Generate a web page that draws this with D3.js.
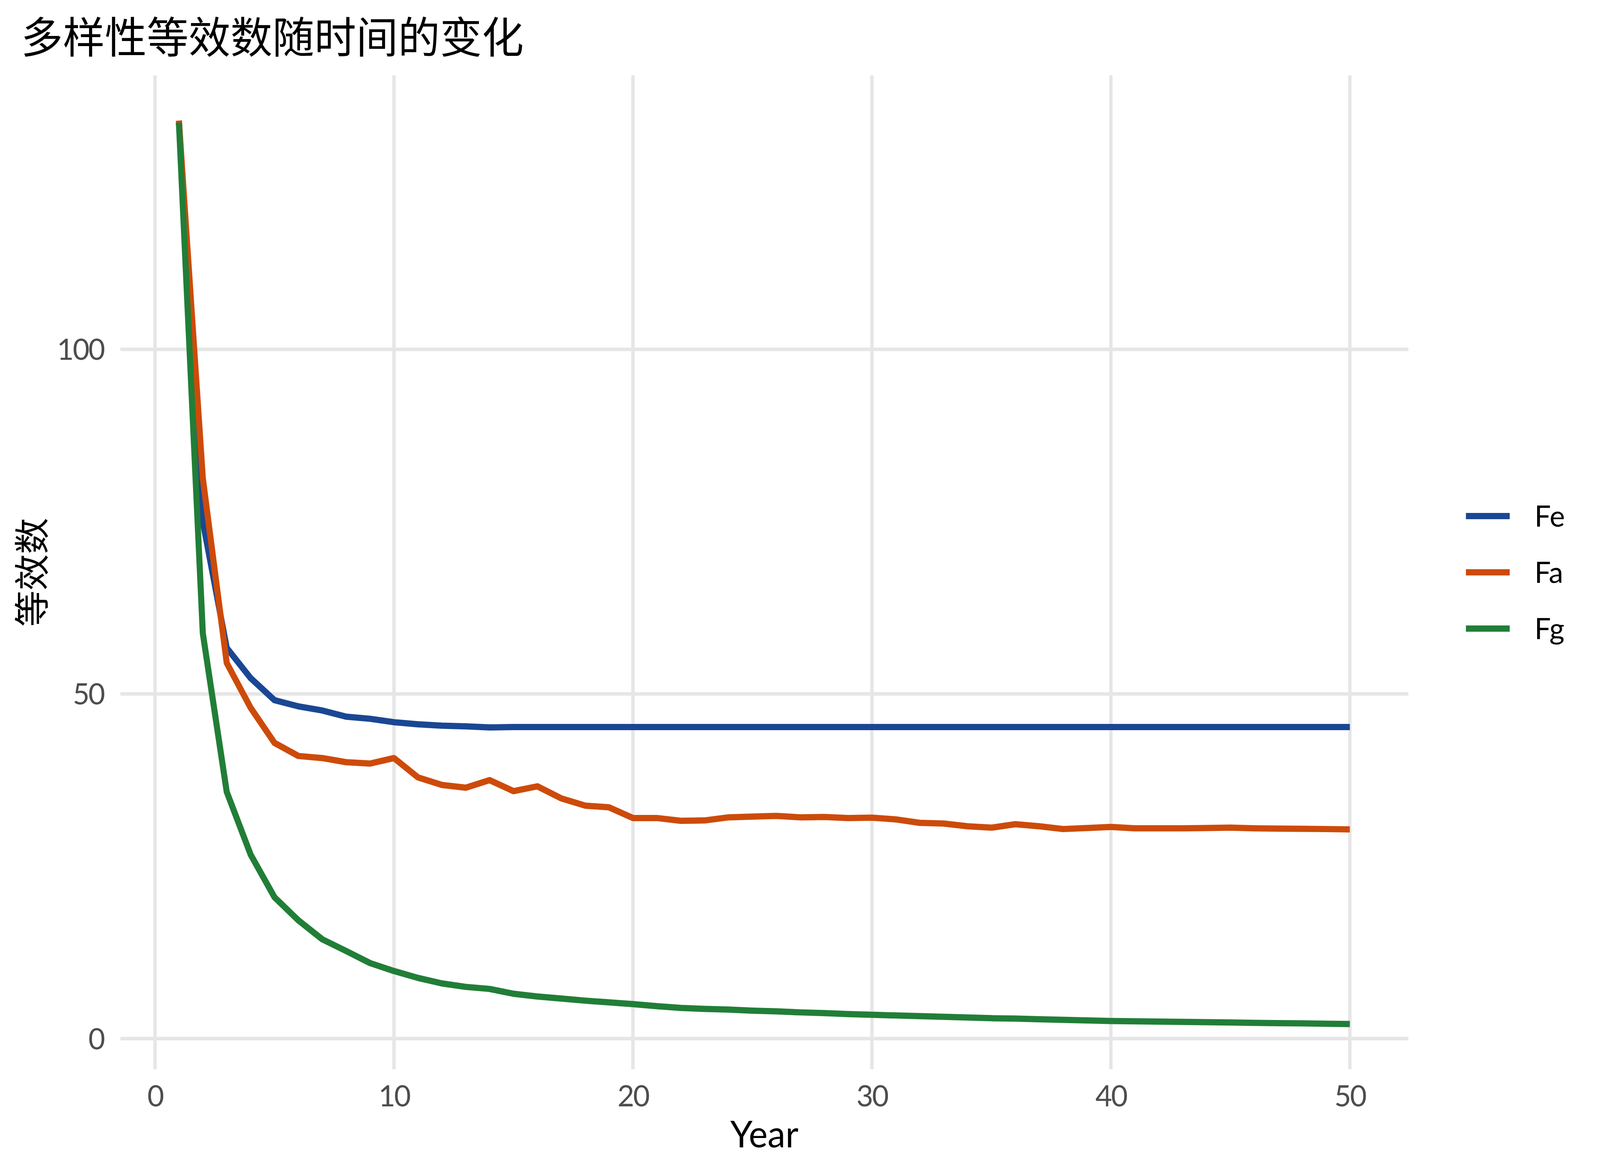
<!DOCTYPE html>
<html>
<head>
<meta charset="utf-8">
<script src="https://cdn.jsdelivr.net/npm/d3@7"></script>
<style>
	html, body { margin: 0; padding: 0; width: 100%; height: 100%; overflow: hidden; background: #fff; }
	svg { display: block; width: 100vw; height: 100vh; }
</style>
</head>
<body>
<!-- the window can come out narrower than 4200, so the drawing is stretched to fill it -->
<svg id="plot" viewBox="0 0 4200 3000" preserveAspectRatio="none"></svg>
<script>
function whenDocumentLoaded(action) {
	if (document.readyState === "loading") {
		document.addEventListener("DOMContentLoaded", action);
	} else {
		action();
	}
}

const TITLE = '多样性等效数随时间的变化';
const X_TITLE = 'Year';
const Y_TITLE = '等效数';

const YEARS = [1, 2, 3, 4, 5, 6, 7, 8, 9, 10, 11, 12, 13, 14, 15, 16, 17, 18, 19, 20,
	21, 22, 23, 24, 25, 26, 27, 28, 29, 30, 31, 32, 33, 34, 35, 36, 37, 38, 39, 40,
	41, 42, 43, 44, 45, 46, 47, 48, 49, 50];

const FE = [133.0, 75.0, 56.7, 52.3, 49.1, 48.2, 47.6, 46.7, 46.4, 45.9,
	45.6, 45.4, 45.3, 45.15, 45.2, 45.2, 45.2, 45.2, 45.2, 45.2,
	45.2, 45.2, 45.2, 45.2, 45.2, 45.2, 45.2, 45.2, 45.2, 45.2,
	45.2, 45.2, 45.2, 45.2, 45.2, 45.2, 45.2, 45.2, 45.2, 45.2,
	45.2, 45.2, 45.2, 45.2, 45.2, 45.2, 45.2, 45.2, 45.2, 45.2];

const FA = [133.2, 81.3, 54.5, 48.0, 42.9, 41.0, 40.7, 40.1, 39.9, 40.7,
	37.9, 36.8, 36.4, 37.5, 35.9, 36.6, 34.85, 33.8, 33.55, 32.0,
	32.0, 31.6, 31.65, 32.1, 32.2, 32.3, 32.1, 32.15, 32.0, 32.05,
	31.8, 31.3, 31.2, 30.8, 30.6, 31.1, 30.8, 30.4, 30.55, 30.7,
	30.5, 30.5, 30.5, 30.55, 30.6, 30.5, 30.47, 30.43, 30.4, 30.35];

const FG = [132.9, 58.8, 35.8, 26.7, 20.5, 17.15, 14.4, 12.7, 10.95, 9.8,
	8.8, 8.0, 7.5, 7.2, 6.5, 6.1, 5.8, 5.5, 5.25, 5.0,
	4.7, 4.45, 4.3, 4.2, 4.05, 3.95, 3.8, 3.7, 3.55, 3.45,
	3.35, 3.25, 3.15, 3.05, 2.95, 2.9, 2.8, 2.72, 2.63, 2.55,
	2.5, 2.46, 2.42, 2.38, 2.33, 2.28, 2.24, 2.2, 2.15, 2.1];

const SERIES_NAMES = ['Fe', 'Fa', 'Fg'];
const SERIES_COLORS = ['#1a4793', '#cd4b0a', '#217e37'];

const X_TICKS = [0, 10, 20, 30, 40, 50];
const Y_TICKS = [0, 50, 100];

const PANEL = { left: 316, right: 3697, top: 193, bottom: 2737 };
const LATIN = "'Century Gothic', 'URW Gothic', Lato, 'Noto Sans', sans-serif";
const CJK = "'Noto Sans CJK SC', 'Noto Sans', sans-serif";

// ggplot-like 5% expansion of the data range
function expand(ext) {
	const pad = (ext[1] - ext[0]) * 0.05;
	return [ext[0] - pad, ext[1] + pad];
}

whenDocumentLoaded(() => {
	const svg = d3.select('#plot');
	svg.append('rect')
		.attr('width', 4200).attr('height', 3000)
		.attr('fill', '#ffffff');

	const seriesValues = [FE, FA, FG];
	const series = SERIES_NAMES.map((name, i) => ({
		name: name,
		color: SERIES_COLORS[i],
		values: YEARS.map((yr, j) => ({ x: yr, y: seriesValues[i][j] }))
	}));

	const allY = [].concat(FE, FA, FG);
	const scale_x = d3.scaleLinear()
		.domain(expand(d3.extent(YEARS)))
		.range([PANEL.left, PANEL.right]);
	const scale_y = d3.scaleLinear()
		.domain(expand(d3.extent(allY)))
		.range([PANEL.bottom, PANEL.top]);

	/* grid lines */
	const grid = svg.append('g').attr('stroke', '#e6e6e6').attr('stroke-width', 9);
	grid.selectAll('line.gx')
		.data(X_TICKS)
		.enter().append('line')
			.attr('class', 'gx')
			.attr('x1', d => scale_x(d)).attr('x2', d => scale_x(d))
			.attr('y1', PANEL.top).attr('y2', PANEL.bottom);
	grid.selectAll('line.gy')
		.data(Y_TICKS)
		.enter().append('line')
			.attr('class', 'gy')
			.attr('x1', PANEL.left).attr('x2', PANEL.right)
			.attr('y1', d => scale_y(d)).attr('y2', d => scale_y(d));

	/* axes: labels only, no domain or tick marks */
	const xAxis = svg.append('g')
		.attr('transform', `translate(0,${PANEL.bottom})`)
		.call(d3.axisBottom(scale_x).tickValues(X_TICKS).tickSize(0).tickPadding(41));
	const yAxis = svg.append('g')
		.attr('transform', `translate(${PANEL.left},0)`)
		.call(d3.axisLeft(scale_y).tickValues(Y_TICKS).tickSize(0).tickPadding(43));
	[xAxis, yAxis].forEach(ax => {
		ax.select('.domain').remove();
		ax.selectAll('text')
			.attr('fill', '#4d4d4d')
			.style('font-family', LATIN)
			.style('font-size', '76px')
			.style('letter-spacing', '-3px');
	});
	yAxis.selectAll('text').attr('dy', '0.35em');

	/* lines */
	const line = d3.line()
		.x(d => scale_x(d.x))
		.y(d => scale_y(d.y));
	svg.selectAll('path.series')
		.data(series)
		.enter().append('path')
			.attr('class', 'series')
			.attr('d', d => line(d.values))
			.attr('fill', 'none')
			.attr('stroke', d => d.color)
			.attr('stroke-width', 16)
			.attr('stroke-linejoin', 'round')
			.attr('stroke-linecap', 'butt');

	/* titles */
	svg.append('text')
		.attr('x', 55).attr('y', 136)
		.style('font-family', CJK)
		.style('font-size', '110px')
		.attr('fill', '#000')
		.text(TITLE);
	svg.append('text')
		.attr('x', (PANEL.left + PANEL.right) / 2).attr('y', 2937)
		.attr('text-anchor', 'middle')
		.style('font-family', LATIN)
		.style('font-size', '94px')
		.attr('fill', '#000')
		.text(X_TITLE);
	svg.append('text')
		.attr('transform', `translate(118,${(PANEL.top + PANEL.bottom) / 2}) rotate(-90)`)
		.attr('text-anchor', 'middle')
		.style('font-family', CJK)
		.style('font-size', '93px')
		.attr('fill', '#000')
		.text(Y_TITLE);

	/* legend */
	const legend = svg.append('g').attr('transform', 'translate(3848,1321)');
	const items = legend.selectAll('g')
		.data(series)
		.enter().append('g')
			.attr('transform', (d, i) => `translate(0,${i * 144})`);
	items.append('line')
		.attr('x1', 0).attr('x2', 115)
		.attr('y1', 0).attr('y2', 0)
		.attr('stroke', d => d.color)
		.attr('stroke-width', 16);
	items.append('text')
		.attr('x', 180).attr('y', 0).attr('dy', '0.36em')
		.style('font-family', LATIN)
		.style('font-size', '76px')
		.attr('fill', '#000')
		.text(d => d.name);
});
</script>
</body>
</html>
